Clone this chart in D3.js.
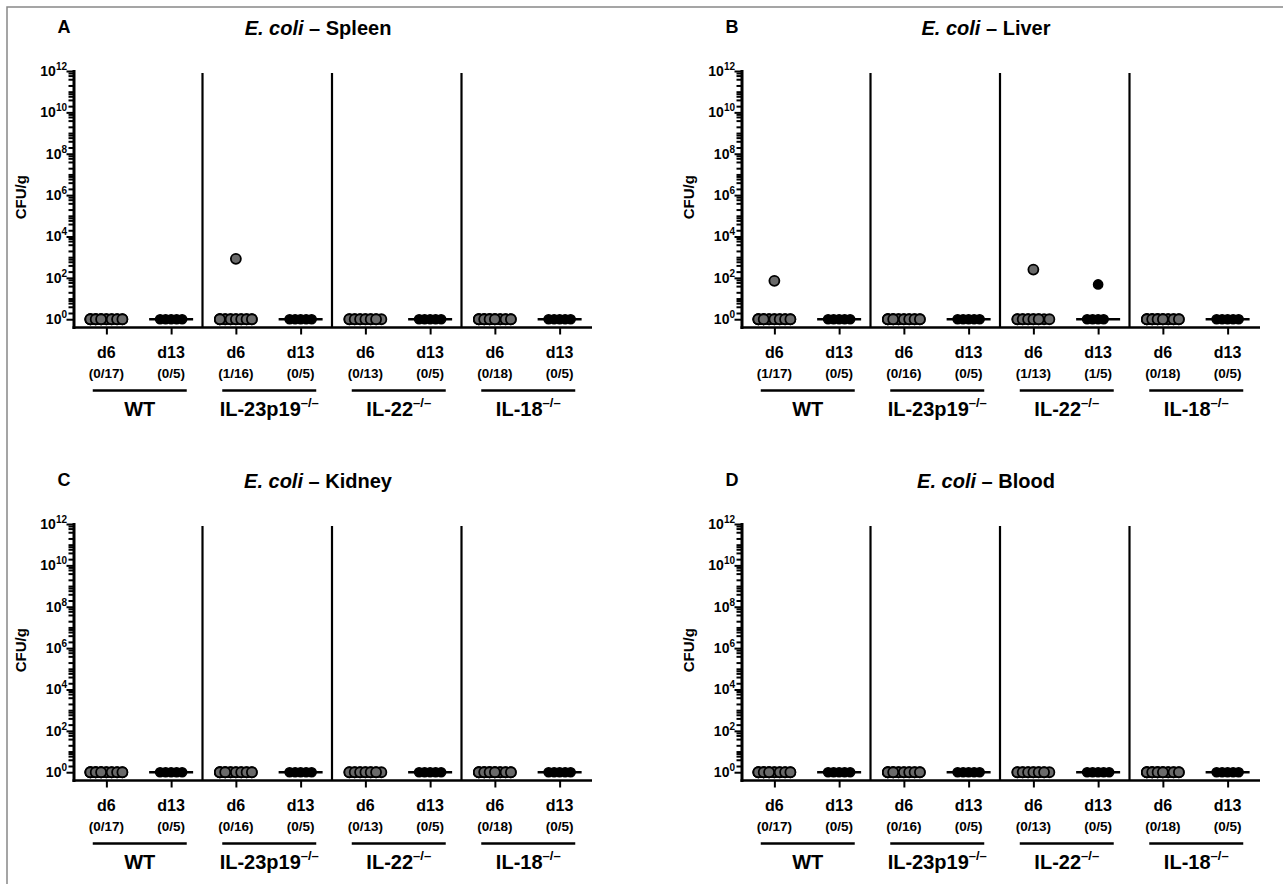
<!DOCTYPE html>
<html>
<head>
<meta charset="utf-8">
<script src="https://cdn.jsdelivr.net/npm/d3@7"></script>
<style>
  body { margin:0; background:#fff; }
  svg text { font-family: "Liberation Sans", Arial, sans-serif; font-weight: bold; fill:#000; }
</style>
</head>
<body>
<svg id="fig" width="1283" height="884"></svg>
<script>
// groups / timepoints
var groups = ["WT", "IL-23p19", "IL-22", "IL-18"];
var days = ["d6", "d13"];
var organs = ["Spleen", "Liver", "Kidney", "Blood"];
var letters = ["A", "B", "C", "D"];
var yTickExps = [0, 2, 4, 6, 8, 10, 12];

// CFU/g per column (WT d6, WT d13, IL-23p19 d6, IL-23p19 d13, IL-22 d6, IL-22 d13, IL-18 d6, IL-18 d13)
// undetected animals plotted at 10^0
var spleenCFU = [
  [1,1,1,1,1,1,1,1,1,1,1,1,1,1,1,1,1], [1,1,1,1,1],
  [830,1,1,1,1,1,1,1,1,1,1,1,1,1,1,1], [1,1,1,1,1],
  [1,1,1,1,1,1,1,1,1,1,1,1,1], [1,1,1,1,1],
  [1,1,1,1,1,1,1,1,1,1,1,1,1,1,1,1,1,1], [1,1,1,1,1]
];
var liverCFU = [
  [72,1,1,1,1,1,1,1,1,1,1,1,1,1,1,1,1], [1,1,1,1,1],
  [1,1,1,1,1,1,1,1,1,1,1,1,1,1,1,1], [1,1,1,1,1],
  [250,1,1,1,1,1,1,1,1,1,1,1,1], [48,1,1,1,1],
  [1,1,1,1,1,1,1,1,1,1,1,1,1,1,1,1,1,1], [1,1,1,1,1]
];
var kidneyCFU = [
  [1,1,1,1,1,1,1,1,1,1,1,1,1,1,1,1,1], [1,1,1,1,1],
  [1,1,1,1,1,1,1,1,1,1,1,1,1,1,1,1], [1,1,1,1,1],
  [1,1,1,1,1,1,1,1,1,1,1,1,1], [1,1,1,1,1],
  [1,1,1,1,1,1,1,1,1,1,1,1,1,1,1,1,1,1], [1,1,1,1,1]
];
var bloodCFU = [
  [1,1,1,1,1,1,1,1,1,1,1,1,1,1,1,1,1], [1,1,1,1,1],
  [1,1,1,1,1,1,1,1,1,1,1,1,1,1,1,1], [1,1,1,1,1],
  [1,1,1,1,1,1,1,1,1,1,1,1,1], [1,1,1,1,1],
  [1,1,1,1,1,1,1,1,1,1,1,1,1,1,1,1,1,1], [1,1,1,1,1]
];
var panelData = [spleenCFU, liverCFU, kidneyCFU, bloodCFU];

var svg = d3.select("#fig");

// outer frame
svg.append("rect").attr("x", 7).attr("y", 7).attr("width", 1290).attr("height", 900)
  .attr("fill", "none").attr("stroke", "#888").attr("stroke-width", 1.5);

var columns = [];
groups.forEach(function(g) { days.forEach(function(d) { columns.push(g + "|" + d); }); });

var d6Slots = [-16, -10.7, -5.3, 0, 5.3, 10.7, 16];
var d13Slots = [-11, -5.5, 0, 5.5, 11];

function drawPanel(p) {
  var ax = (p % 2 == 0) ? 74 : 742;      // y axis x
  var off = (p < 2) ? 0 : 453;           // vertical offset
  var top = 71 + off, bottom = 327.5 + off;
  var data = panelData[p];

  var g = svg.append("g");

  var x = d3.scalePoint().domain(columns).range([ax, ax + 518]).padding(0.5);
  var y = d3.scaleLog().domain([Math.pow(10, -0.4), 1e12]).range([bottom, top]);

  // letter + title
  g.append("text").attr("x", ax - 10).attr("y", 33 + off).attr("text-anchor", "middle")
    .style("font-size", "18px").text(letters[p]);
  var t = g.append("text").attr("x", ax + 244).attr("y", 35 + off).attr("text-anchor", "middle")
    .style("font-size", "20px");
  t.append("tspan").style("font-style", "italic").text("E. coli");
  t.append("tspan").text(" \u2013 " + organs[p]);

  // y label
  g.append("text").attr("transform", "translate(" + (ax - 48) + "," + ((top + bottom) / 2 - 2) + ") rotate(-90)")
    .attr("text-anchor", "middle").style("font-size", "15px").text("CFU/g");

  // minor ticks
  var minor = [];
  for (var e = 0; e < 12; e++) {
    [2, 4, 6, 8].forEach(function(m) { minor.push(m * Math.pow(10, e)); });
    if (e % 2 == 1) minor.push(Math.pow(10, e));
  }
  var yMinor = g.append("g").attr("transform", "translate(" + ax + ",0)")
    .call(d3.axisLeft(y).tickValues(minor).tickSize(5.5).tickSizeOuter(0).tickFormat(""));
  yMinor.select(".domain").remove();
  yMinor.selectAll(".tick line").attr("stroke-width", 2);

  var yMajor = g.append("g").attr("transform", "translate(" + ax + ",0)")
    .call(d3.axisLeft(y).tickValues(yTickExps.map(function(k) { return Math.pow(10, k); }))
      .tickSize(7.5).tickSizeOuter(0).tickFormat(""));
  yMajor.select(".domain").remove();
  yMajor.selectAll(".tick line").attr("stroke-width", 2);

  yTickExps.forEach(function(k) {
    var lab = g.append("text").attr("x", ax - 7).attr("y", y(Math.pow(10, k)) + 5)
      .attr("text-anchor", "end").style("font-size", "14px");
    lab.append("tspan").text("10");
    lab.append("tspan").attr("dy", -6).style("font-size", "10px").text(k);
  });

  // axis lines
  g.append("line").attr("x1", ax).attr("x2", ax).attr("y1", top - 1).attr("y2", bottom + 1.5)
    .attr("stroke", "#000").attr("stroke-width", 3);

  var xa = g.append("g").attr("transform", "translate(0," + bottom + ")")
    .call(d3.axisBottom(x).tickSize(7).tickSizeOuter(0).tickFormat(""));
  xa.select(".domain").attr("stroke-width", 2.5).attr("d", "M" + (ax - 1.5) + ",0H" + (ax + 518));
  xa.selectAll(".tick line").attr("stroke-width", 2);

  // group separators
  for (var s = 1; s < groups.length; s++) {
    var sx = (x(columns[2 * s - 1]) + x(columns[2 * s])) / 2 - 1;
    g.append("line").attr("x1", sx).attr("x2", sx).attr("y1", top + 2).attr("y2", bottom)
      .attr("stroke", "#000").attr("stroke-width", 2.2);
  }

  // column labels
  columns.forEach(function(c, i) {
    var vals = data[i];
    var pos = vals.filter(function(v) { return v > 1; }).length;
    var cx = x(c);
    g.append("text").attr("x", cx).attr("y", bottom + 30).attr("text-anchor", "middle")
      .style("font-size", "16px").text(c.split("|")[1]);
    g.append("text").attr("x", cx).attr("y", bottom + 50).attr("text-anchor", "middle")
      .style("font-size", "13.5px").text("(" + pos + "/" + vals.length + ")");
  });

  groups.forEach(function(gr, j) {
    var mid = (x(columns[2 * j]) + x(columns[2 * j + 1])) / 2 + 1;
    g.append("line").attr("x1", mid - 47).attr("x2", mid + 47)
      .attr("y1", bottom + 63).attr("y2", bottom + 63).attr("stroke", "#000").attr("stroke-width", 2.5);
    var gl = g.append("text").attr("x", mid).attr("y", bottom + 88).attr("text-anchor", "middle")
      .style("font-size", "20px");
    gl.append("tspan").text(gr);
    if (gr != "WT") gl.append("tspan").attr("dy", -9).style("font-size", "13px").text("\u2013/\u2013");
  });

  // points
  columns.forEach(function(c, i) {
    var isD6 = c.split("|")[1] == "d6";
    var cx = x(c);
    if (!isD6) {
      g.append("line").attr("x1", cx - 22).attr("x2", cx + 22)
        .attr("y1", y(1)).attr("y2", y(1)).attr("stroke", "#000").attr("stroke-width", 2.5);
    }
    var k = 0;
    var pts = data[i].map(function(v) {
      var dx = 0;
      if (v <= 1) { var sl = isD6 ? d6Slots : d13Slots; dx = sl[k % sl.length]; k++; }
      return { v: v, dx: dx };
    });
    g.selectAll(null).data(pts).enter().append("circle")
      .attr("cx", function(d) { return cx + d.dx; })
      .attr("cy", function(d) { return y(d.v); })
      .attr("r", isD6 ? 5 : 4.6)
      .attr("fill", isD6 ? "#6a6a6a" : "#000")
      .attr("stroke", "#000").attr("stroke-width", isD6 ? 1.8 : 1.5);
  });
}

for (var p = 0; p < 4; p++) drawPanel(p);
</script>
</body>
</html>
